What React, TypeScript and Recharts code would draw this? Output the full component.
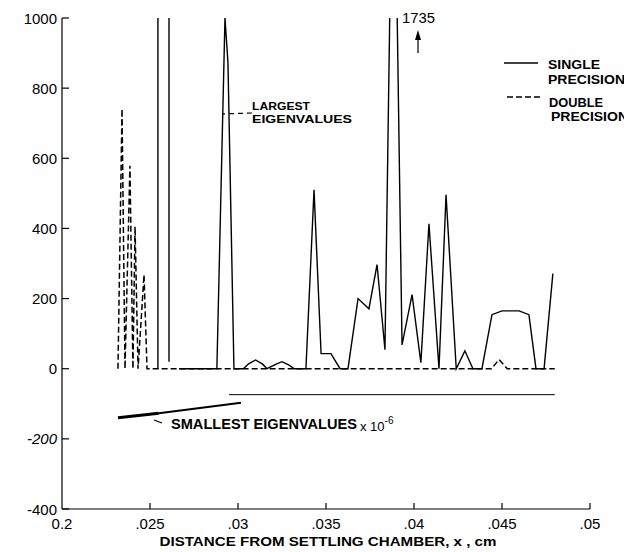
import { LineChart, Line, XAxis, YAxis, Customized } from 'recharts';

const font = '"Liberation Sans", Arial, Helvetica, sans-serif';

// largest eigenvalues, single precision (solid line); null = break in the trace
const singleLargest: [number, number | null][] = [
  [0.02545, 0], [0.02547, 50000], [0.02606, 50000], [0.02608, 20], [0.0263, null],
  [0.02665, 0], [0.0288, 0], [0.02926, 1000], [0.02943, 872], [0.02977, 0],
  [0.0303, 0], [0.0306, 14], [0.031, 25], [0.0314, 13], [0.03165, 0],
  [0.0322, 14], [0.0325, 20], [0.0329, 10], [0.0332, 0], [0.03386, 0],
  [0.03432, 510], [0.03472, 43], [0.03528, 43], [0.0358, 0], [0.03625, 0],
  [0.03682, 200], [0.03744, 171], [0.0379, 297], [0.03835, 54], [0.03883, 1735],
  [0.03932, 68], [0.03989, 211], [0.04039, 17], [0.04085, 413], [0.04142, 0],
  [0.04182, 496], [0.0424, 0], [0.04289, 51], [0.04335, 0], [0.04386, 0],
  [0.04443, 154], [0.045, 165], [0.04597, 165], [0.04653, 154], [0.04693, 0],
  [0.04739, 0], [0.04789, 271],
];

// largest eigenvalues, double precision (dashed line)
const doubleLargest: [number, number][] = [
  [0.02318, 0], [0.02341, 741], [0.02358, 0], [0.02386, 579], [0.02403, 0],
  [0.02415, 405], [0.02432, 0], [0.02466, 268], [0.02483, 0], [0.0444, 0],
  [0.04483, 26], [0.0453, 0], [0.048, 0],
];

// smallest eigenvalues x 10^-6
const singleSmallest: [number, number][] = [[0.02949, -74], [0.048, -74]];
const doubleSmallestHead: [number, number][] = [[0.02318, -140], [0.0255, -127]];
const doubleSmallestTail: [number, number][] = [[0.0255, -127], [0.03017, -97]];

const xTicks = [0.02, 0.025, 0.03, 0.035, 0.04, 0.045, 0.05];
const xTickLabels = ['0.2', '.025', '.03', '.035', '.04', '.045', '.05'];
const yTicks = [-400, -200, 0, 200, 400, 600, 800, 1000];

const toPoints = (arr: [number, number | null][]) => arr.map(([x, y]) => ({ x, y }));

function XTick(props: any) {
  const { x, y, payload } = props;
  const i = Math.round((payload.value - 0.02) / 0.005);
  return (
    <g>
      {i > 0 && <line x1={x} y1={y} x2={x} y2={y - 6} stroke="#000" strokeWidth={1.2} />}
      <text x={x} y={y + 20} textAnchor="middle" fontSize={15} fontFamily={font} fill="#000">
        {xTickLabels[i]}
      </text>
    </g>
  );
}

function YTick(props: any) {
  const { x, y, payload } = props;
  return (
    <g>
      <line x1={x} y1={y} x2={x + 7} y2={y} stroke="#000" strokeWidth={1.2} />
      <text
        x={x - 5}
        y={y + 5.5}
        textAnchor="end"
        fontSize={15}
        fontFamily={font}
        fontStyle={payload.value === -200 ? 'italic' : 'normal'}
        fill="#000"
      >
        {payload.value}
      </text>
    </g>
  );
}

function Annotations() {
  return (
    <g fontFamily={font} fill="#000">
      {/* peak value marker */}
      <text x={394} y={15} fontSize={14} textLength={33} lengthAdjust="spacingAndGlyphs">1735</text>
      <line x1={410} y1={45} x2={410} y2={26} stroke="#000" strokeWidth={1.2} />
      <path d="M407,32 L410,22 L413,32 Z" fill="#000" />

      {/* largest eigenvalues label */}
      <line x1={244} y1={105} x2={214} y2={106} stroke="#000" strokeWidth={1.2} strokeDasharray="5 4" />
      <text x={244} y={102} fontSize={11} fontWeight="bold" textLength={58} lengthAdjust="spacingAndGlyphs">LARGEST</text>
      <text x={244} y={115} fontSize={11} fontWeight="bold" textLength={100} lengthAdjust="spacingAndGlyphs">EIGENVALUES</text>

      {/* legend */}
      <line x1={496} y1={55} x2={530} y2={55} stroke="#000" strokeWidth={1.5} />
      <text x={540} y={61} fontSize={13.5} fontWeight="bold" textLength={52} lengthAdjust="spacingAndGlyphs">SINGLE</text>
      <text x={540} y={76} fontSize={13.5} fontWeight="bold" textLength={77} lengthAdjust="spacingAndGlyphs">PRECISION</text>
      <line x1={499} y1={89} x2={533} y2={89} stroke="#000" strokeWidth={1.5} strokeDasharray="6 3" />
      <text x={541} y={99} fontSize={13.5} fontWeight="bold" textLength={54} lengthAdjust="spacingAndGlyphs">DOUBLE</text>
      <text x={543} y={113} fontSize={13.5} fontWeight="bold" textLength={77} lengthAdjust="spacingAndGlyphs">PRECISION</text>

      {/* smallest eigenvalues label */}
      <line x1={146} y1={412} x2={154} y2={415} stroke="#000" strokeWidth={1.2} />
      <text x={163} y={421} fontSize={15} fontWeight="bold" textLength={186} lengthAdjust="spacingAndGlyphs">SMALLEST EIGENVALUES</text>
      <text x={352} y={423} fontSize={13}>
        x 10<tspan fontSize={10} dy={-7}>-6</tspan>
      </text>

      {/* x axis title */}
      <text x={320} y={538} fontSize={13} fontWeight="bold" textAnchor="middle" textLength={337} lengthAdjust="spacingAndGlyphs">
        DISTANCE FROM SETTLING CHAMBER,  x , cm
      </text>
    </g>
  );
}

export default function App() {
  return (
    <LineChart width={616} height={544} margin={{ top: 10, right: 34, left: 0, bottom: 8 }}>
      <XAxis
        dataKey="x"
        type="number"
        domain={[0.02, 0.05]}
        ticks={xTicks}
        allowDataOverflow
        height={35}
        tickSize={0}
        tickMargin={0}
        axisLine={{ stroke: '#000', strokeWidth: 1.2 }}
        tickLine={false}
        tick={(p: any) => <XTick {...p} />}
      />
      <YAxis
        type="number"
        domain={[-400, 1000]}
        ticks={yTicks}
        allowDataOverflow
        width={54}
        tickSize={0}
        tickMargin={0}
        axisLine={{ stroke: '#000', strokeWidth: 1.2 }}
        tickLine={false}
        tick={(p: any) => <YTick {...p} />}
      />
      <Line data={toPoints(singleLargest)} dataKey="y" type="linear" stroke="#000" strokeWidth={1.4} dot={false} isAnimationActive={false} />
      <Line data={toPoints(doubleLargest)} dataKey="y" type="linear" stroke="#000" strokeWidth={1.5} strokeDasharray="6 3" dot={false} isAnimationActive={false} />
      <Line data={toPoints(singleSmallest)} dataKey="y" type="linear" stroke="#000" strokeWidth={1} dot={false} isAnimationActive={false} />
      <Line data={toPoints(doubleSmallestHead)} dataKey="y" type="linear" stroke="#000" strokeWidth={3} dot={false} isAnimationActive={false} />
      <Line data={toPoints(doubleSmallestTail)} dataKey="y" type="linear" stroke="#000" strokeWidth={1.8} dot={false} isAnimationActive={false} />
      <Customized component={Annotations} />
    </LineChart>
  );
}
